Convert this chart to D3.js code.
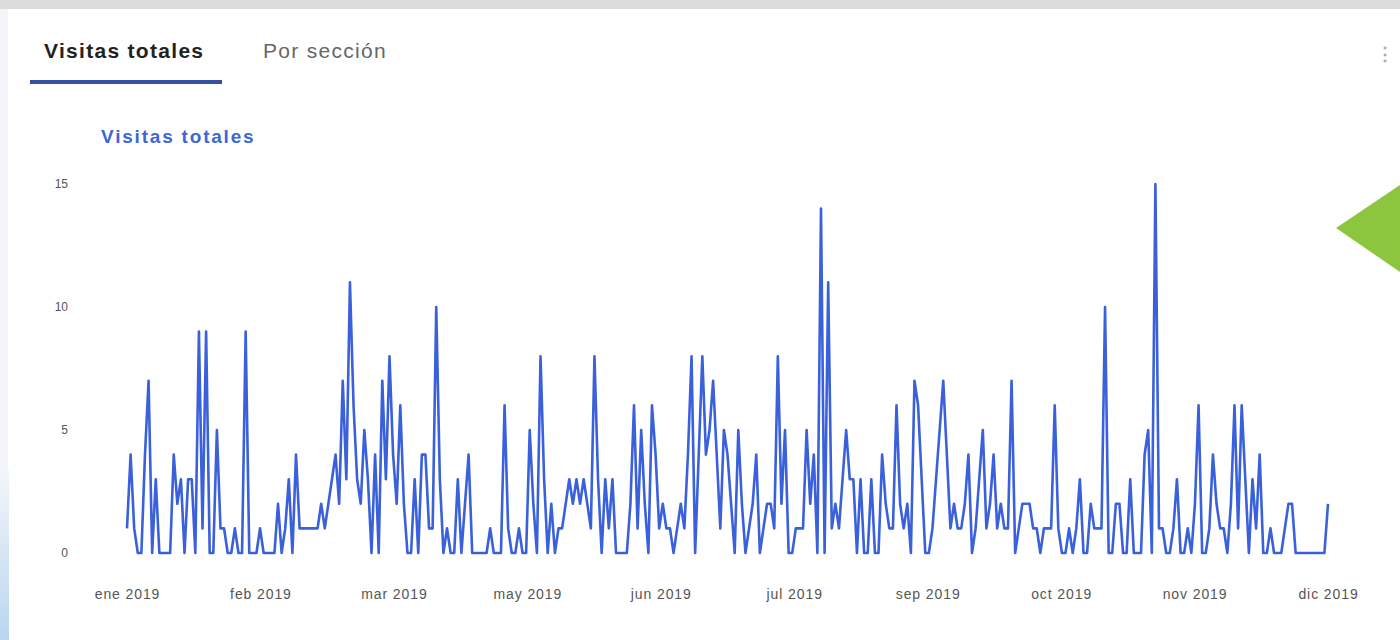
<!DOCTYPE html>
<html>
<head>
<meta charset="utf-8">
<script src="https://cdn.jsdelivr.net/npm/d3@7/dist/d3.min.js"></script>
<style>
  body { margin: 0; background: #fff; }
  svg { display: block; font-family: 'Liberation Sans', Arial, sans-serif; }
  .axis text { fill: #555; }
  .axis path, .axis line { display: none; }
</style>
</head>
<body>
<div id="chart"></div>
<script>
// visitas diarias, 1 ene 2019 - 1 dic 2019
const visitas = [
  1, 4, 1, 0, 0, 4, 7, 0, 3, 0, 0, 0, 0, 4, 2, 3, 0, 3, 3, 0,
  9, 1, 9, 0, 0, 5, 1, 1, 0, 0, 1, 0, 0, 9, 0, 0, 0, 1, 0, 0,
  0, 0, 2, 0, 1, 3, 0, 4, 1, 1, 1, 1, 1, 1, 2, 1, 2, 3, 4, 2,
  7, 3, 11, 6, 3, 2, 5, 3, 0, 4, 0, 7, 3, 8, 4, 2, 6, 2, 0, 0,
  3, 0, 4, 4, 1, 1, 10, 3, 0, 1, 0, 0, 3, 0, 2, 4, 0, 0, 0, 0,
  0, 1, 0, 0, 0, 6, 1, 0, 0, 1, 0, 0, 5, 2, 0, 8, 3, 0, 2, 0,
  1, 1, 2, 3, 2, 3, 2, 3, 2, 1, 8, 3, 0, 3, 1, 3, 0, 0, 0, 0,
  2, 6, 1, 5, 2, 0, 6, 4, 1, 2, 1, 1, 0, 1, 2, 1, 4, 8, 0, 4,
  8, 4, 5, 7, 4, 1, 5, 4, 2, 0, 5, 2, 0, 1, 2, 4, 0, 1, 2, 2,
  1, 8, 2, 5, 0, 0, 1, 1, 1, 5, 2, 4, 0, 14, 0, 11, 1, 2, 1, 3,
  5, 3, 3, 0, 3, 0, 0, 3, 0, 0, 4, 2, 1, 1, 6, 2, 1, 2, 0, 7,
  6, 3, 0, 0, 1, 3, 5, 7, 4, 1, 2, 1, 1, 2, 4, 0, 1, 3, 5, 1,
  2, 4, 1, 2, 1, 1, 7, 0, 1, 2, 2, 2, 1, 1, 0, 1, 1, 1, 6, 1,
  0, 0, 1, 0, 1, 3, 0, 0, 2, 1, 1, 1, 10, 0, 0, 2, 2, 0, 0, 3,
  0, 0, 0, 4, 5, 0, 15, 1, 1, 0, 0, 1, 3, 0, 0, 1, 0, 2, 6, 0,
  0, 1, 4, 2, 1, 1, 0, 2, 6, 1, 6, 3, 0, 3, 1, 4, 0, 0, 1, 0,
  0, 0, 1, 2, 2, 0, 0, 0, 0, 0, 0, 0, 0, 0, 2
]
const mesesEtiquetas = ['ene 2019', 'feb 2019', 'mar 2019', 'may 2019', 'jun 2019', 'jul 2019', 'sep 2019', 'oct 2019', 'nov 2019', 'dic 2019']
const yTicks = [0, 5, 10, 15]
const pestanas = ['Visitas totales', 'Por sección']
const titulo = 'Visitas totales'

const width = 1400
const height = 640

const svg = d3.select('#chart').append('svg')
  .attr('width', width)
  .attr('height', height)

// marco de la tarjeta
svg.append('rect')
  .attr('x', 0).attr('y', 0)
  .attr('width', width).attr('height', 9)
  .attr('fill', '#dcdcdc')
svg.append('rect')
  .attr('x', 0).attr('y', 9)
  .attr('width', 8).attr('height', height - 9)
  .attr('fill', '#f3f5f8')
const grad = svg.append('defs').append('linearGradient')
  .attr('id', 'azul').attr('x1', 0).attr('y1', 0).attr('x2', 0).attr('y2', 1)
grad.append('stop').attr('offset', '0%').attr('stop-color', '#f3f5f8')
grad.append('stop').attr('offset', '100%').attr('stop-color', '#b9d6f0')
svg.append('rect')
  .attr('x', 0).attr('y', 470)
  .attr('width', 9).attr('height', 170)
  .attr('fill', 'url(#azul)')

// pestanas
svg.append('text')
  .attr('x', 44).attr('y', 58)
  .attr('font-size', 21).attr('font-weight', 'bold')
  .attr('letter-spacing', 1.3)
  .attr('fill', '#222')
  .text(pestanas[0])
svg.append('text')
  .attr('x', 263).attr('y', 58)
  .attr('font-size', 21)
  .attr('letter-spacing', 1.3)
  .attr('fill', '#666')
  .text(pestanas[1])
svg.append('rect')
  .attr('x', 30).attr('y', 80)
  .attr('width', 192).attr('height', 4)
  .attr('fill', '#34509e')

// icono de menu
svg.append('text')
  .attr('x', 1385).attr('y', 60)
  .attr('font-size', 18).attr('font-weight', 'bold')
  .attr('fill', '#aaa').attr('text-anchor', 'middle')
  .text('⋮')

svg.append('text')
  .attr('x', 101).attr('y', 143)
  .attr('font-size', 19).attr('font-weight', 'bold')
  .attr('letter-spacing', 1.8)
  .attr('fill', '#3d67d6')
  .text(titulo)

const x = d3.scaleLinear()
  .domain([0, visitas.length - 1])
  .range([127, 1328])
const y = d3.scaleLinear()
  .domain([0, 15])
  .range([553, 184])

const tickPos = mesesEtiquetas.map((d, i) => i * (visitas.length - 1) / (mesesEtiquetas.length - 1))

svg.append('g')
  .attr('class', 'axis')
  .attr('transform', 'translate(0,' + 589 + ')')
  .call(d3.axisBottom(x).tickValues(tickPos).tickSize(0).tickPadding(0)
    .tickFormat((d, i) => mesesEtiquetas[i]))
  .selectAll('text')
  .attr('font-size', 14)
  .attr('letter-spacing', 0.9)

svg.append('g')
  .attr('class', 'axis')
  .attr('transform', 'translate(68,0)')
  .call(d3.axisLeft(y).tickValues(yTicks).tickSize(0).tickPadding(0))
  .selectAll('text').attr('font-size', 12)

const line = d3.line()
  .x((d, i) => x(i))
  .y(d => y(d))

svg.append('path')
  .datum(visitas)
  .attr('fill', 'none')
  .attr('stroke', '#3a60db')
  .attr('stroke-width', 2.6)
  .attr('stroke-linejoin', 'round')
  .attr('d', line)

// flecha verde
svg.append('path')
  .attr('d', 'M1336,228 L1400,185 L1400,272 Z')
  .attr('fill', '#8cc63f')
</script>
</body>
</html>
